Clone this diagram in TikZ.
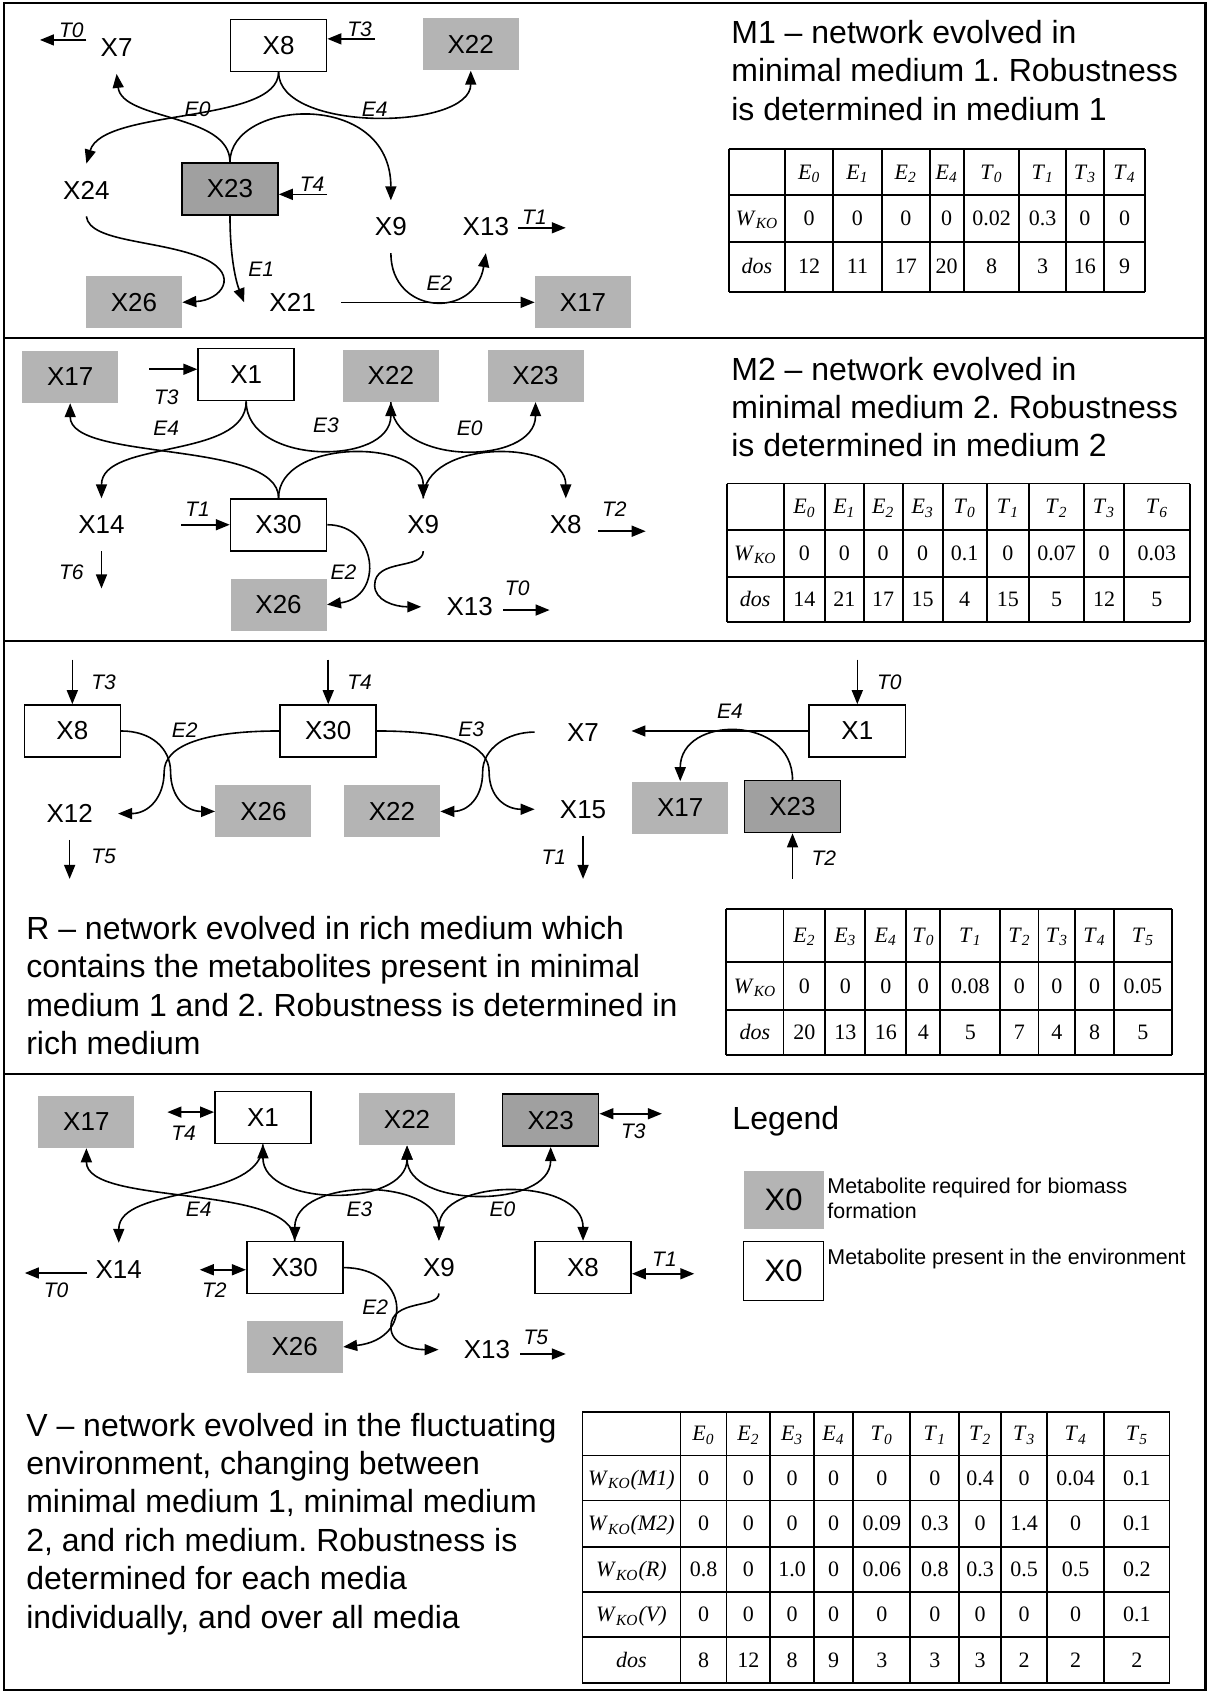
\documentclass[tikz,border=0pt]{standalone}
\usepackage{fontspec}
\setmainfont{Liberation Sans}
\newfontfamily\tnr{Liberation Serif}
\usetikzlibrary{arrows.meta}
\definecolor{lgray}{RGB}{180,180,180}
\definecolor{dgray}{RGB}{160,160,160}
\newcommand\sbx[2]{\textit{#1}\textsubscript{\textit{#2}}}
\newcommand\dfont{\fontsize{16pt}{19.2pt}\selectfont}
\newcommand\tgrid[6]{%
  \foreach \xx in {#5} {\draw[tline] (\xx,#3) -- (\xx,#4);}%
  \foreach \yy in {#6} {\draw[tline] (#1,\yy) -- (#2,\yy);}%
}
\newcommand\trow[3]{\foreach \cx/\tx [count=\k] in {#3} {\node[tcell] (#1-\k) at (\cx,#2) {\tx};}}
\frenchspacing
\begin{document}
\begin{tikzpicture}[x=0.5397pt,y=-0.5397pt,
  met/.style={minimum width=48pt,minimum height=26pt,inner sep=0pt,font=\fontsize{13pt}{15pt}\selectfont},
  wbox/.style={met,draw,line width=0.8pt,fill=white},
  gbox/.style={met,fill=lgray},
  dbox/.style={met,draw,line width=0.8pt,fill=dgray},
  lab/.style={inner sep=0pt,font=\fontsize{10.5pt}{12pt}\selectfont\itshape},
  arr/.style={line width=0.8pt,-{Triangle[length=7pt,width=5.5pt]}},
  darr/.style={line width=0.8pt,{Triangle[length=7pt,width=5.5pt]}-{Triangle[length=7pt,width=5.5pt]}},
  tline/.style={line width=0.9pt},
  frame/.style={line width=1.1pt},
  tcell/.style={inner sep=0pt,text height=8pt,text depth=1pt,font=\tnr\fontsize{11pt}{13pt}\selectfont},
  desc/.style={inner sep=0pt,anchor=base west},
]
\useasboundingbox (0,0) rectangle (1121,1568);
% frames
\draw[frame] (3.5,2.5) rectangle (1116.5,1565.5);
\draw[frame] (3.5,313) -- (1116.5,313);
\draw[frame] (3.5,594) -- (1116.5,594);
\draw[frame] (3.5,995) -- (1116.5,995);

%%%%%%%%%%%%%%%% M1
\node[met] (a7) at (108,44) {X7};
\node[wbox] (a8) at (258,42) {X8};
\node[gbox] (a22) at (436,41) {X22};
\node[met] (a24) at (80,176) {X24};
\node[dbox] (a23) at (213,175) {X23};
\node[met] (a9) at (362,210) {X9};
\node[met] (a13) at (450,210) {X13};
\node[gbox] (a26) at (124,280) {X26};
\node[met] (a21) at (271,280) {X21};
\node[gbox] (a17) at (540,280) {X17};
\draw[arr] (a8.south) .. controls (258,115) and (95,100) .. (a24.north);
\draw[arr] (a23.north) .. controls (213,105) and (113,112) .. (a7.south);
\draw[arr] (a8.south) .. controls (258,123) and (436,121) .. (a22.south);
\draw[arr] (a23.north) .. controls (213,92) and (362,82) .. (a9.north);
\draw[arr] (a23.south) .. controls (213,240) and (219,262) .. (a21.west);
\draw[arr] (a24.south) .. controls (83,225) and (150,222) .. (190,240) .. controls (222,255) and (205,278) .. (a26.east);
\draw[arr] (a9.south) .. controls (362,292) and (440,296) .. (a13.south);
\draw[arr] (a21.east) -- (a17.west);
\coordinate (aT0s) at (80,37); \coordinate (aT0e) at (37,37);
\draw[arr] (aT0s) -- (aT0e);
\coordinate (aT3s) at (347,36); \draw[arr] (aT3s) -- (aT3s -| a8.east);
\coordinate (aT4s) at (303,180); \draw[arr] (aT4s) -- (aT4s -| a23.east);
\coordinate (aT1s) at (480,211); \coordinate (aT1e) at (524,211);
\draw[arr] (aT1s) -- (aT1e);
\node[lab] (aT0) at (66,28) {T0};
\node[lab] (aT3) at (333,27) {T3};
\node[lab] (aT4) at (289,171) {T4};
\node[lab] (aT1) at (495,201) {T1};
\node[lab] (aE0) at (183,101) {E0};
\node[lab] (aE4) at (347,101) {E4};
\node[lab] (aE1) at (242,249) {E1};
\node[lab] (aE2) at (407,262) {E2};
\node[desc] (m1t) at (677,40) {\parbox[t]{300pt}{\dfont M1 – network evolved in\\minimal medium 1. Robustness\\is determined in medium 1}};
\tgrid{674.8}{1060.8}{138.3}{270.2}{674.8,727.3,771.4,816.8,861,892.5,944,987.3,1022.2,1060.8}{138.3,180.7,223.9,270.2}
\trow{tah}{159.5}{749.4/{\sbx{E}{0}},794.1/{\sbx{E}{1}},838.9/{\sbx{E}{2}},876.8/{\sbx{E}{4}},918.3/{\sbx{T}{0}},965.7/{\sbx{T}{1}},1004.8/{\sbx{T}{3}},1041.5/{\sbx{T}{4}}}
\trow{taw}{202.3}{701.1/{\sbx{W}{KO}},749.4/0,794.1/0,838.9/0,876.8/0,918.3/0.02,965.7/0.3,1004.8/0,1041.5/0}
\trow{tad}{247}{701.1/{\textit{dos}},749.4/12,794.1/11,838.9/17,876.8/20,918.3/8,965.7/3,1004.8/16,1041.5/9}

%%%%%%%%%%%%%%%% M2
\node[gbox] (b17) at (65,349) {X17};
\node[wbox] (b1) at (228,347) {X1};
\node[gbox] (b22) at (362,348) {X22};
\node[gbox] (b23) at (496,348) {X23};
\node[met] (b14) at (94,486) {X14};
\node[wbox] (b30) at (258,486) {X30};
\node[met] (b9) at (392,486) {X9};
\node[met] (b8) at (524,486) {X8};
\node[gbox] (b26) at (258,560) {X26};
\node[met] (b13) at (435,562) {X13};
\draw[arr] (b1.south) .. controls (228,426) and (94,407) .. (b14.north);
\draw[arr] (b30.north) .. controls (258,407) and (65,428) .. (b17.south);
\draw[arr] (b1.south) .. controls (228,431) and (362,432) .. (b22.south);
\draw[arr] (b30.north) .. controls (258,406) and (392,406) .. (b9.north);
\draw[arr] (b22.south) .. controls (362,432) and (496,432) .. (b23.south);
\draw[arr] (b9.north) .. controls (392,406) and (524,406) .. (b8.north);
\draw[arr] (b30.east) .. controls (350,486) and (356,553) .. (b26.east);
\draw[arr] (b9.south) .. controls (392,528) and (347,517) .. (347,542) .. controls (347,556) and (365,562) .. (b13.west);
\coordinate (bT3s) at (138,342); \draw[arr] (bT3s) -- (bT3s -| b1.west);
\coordinate (bT1s) at (168,486); \draw[arr] (bT1s) -- (b30.west);
\coordinate (bT2s) at (554,492); \coordinate (bT2e) at (598,492); \draw[arr] (bT2s) -- (bT2e);
\coordinate (bT6e) at (94,545); \draw[arr] (b14.south) -- (bT6e);
\coordinate (bT0s) at (466,565); \coordinate (bT0e) at (509,565); \draw[arr] (bT0s) -- (bT0e);
\node[lab] (bT3) at (154,367.5) {T3};
\node[lab] (bT1) at (183,472) {T1};
\node[lab] (bT2) at (569,472) {T2};
\node[lab] (bT6) at (66,530) {T6};
\node[lab] (bT0) at (479,545) {T0};
\node[lab] (bE4) at (154,397) {E4};
\node[lab] (bE3) at (302,394) {E3};
\node[lab] (bE0) at (435,397) {E0};
\node[lab] (bE2) at (318,530) {E2};
\node[desc] (m2t) at (677,352) {\parbox[t]{300pt}{\dfont M2 – network evolved in\\minimal medium 2. Robustness\\is determined in medium 2}};
\tgrid{673}{1102}{447.8}{576}{673,726,764,800,836,873,914,953,1004,1041,1102}{447.8,491,534.3,576}
\trow{tbh}{469.4}{745/{\sbx{E}{0}},782/{\sbx{E}{1}},818/{\sbx{E}{2}},854.5/{\sbx{E}{3}},893.5/{\sbx{T}{0}},933.5/{\sbx{T}{1}},978.5/{\sbx{T}{2}},1022.5/{\sbx{T}{3}},1071.5/{\sbx{T}{6}}}
\trow{tbw}{512.7}{699.5/{\sbx{W}{KO}},745/0,782/0,818/0,854.5/0,893.5/0.1,933.5/0,978.5/0.07,1022.5/0,1071.5/0.03}
\trow{tbd}{555.2}{699.5/{\textit{dos}},745/14,782/21,818/17,854.5/15,893.5/4,933.5/15,978.5/5,1022.5/12,1071.5/5}

%%%%%%%%%%%%%%%% R
\node[wbox] (c8) at (67,677) {X8};
\node[wbox] (c30) at (304,677) {X30};
\node[met] (c7) at (540,678) {X7};
\node[wbox] (c1) at (794,677) {X1};
\node[met] (c12) at (64.5,753.5) {X12};
\node[gbox] (c26) at (244,751.5) {X26};
\node[gbox] (c22) at (363,751.5) {X22};
\node[met] (c15) at (540,749.5) {X15};
\node[gbox] (c17) at (630,748) {X17};
\node[dbox] (c23) at (734,747) {X23};
\draw[arr] (c8.east) .. controls (140,677) and (158,693) .. (158,715) .. controls (158,738) and (172,751.5) .. (c26.west);
\draw[arr] (c30.west) .. controls (190,677) and (152,690) .. (152,715) .. controls (152,738) and (138,753.5) .. (c12.east);
\draw[arr] (c30.east) .. controls (420,677) and (453,690) .. (453,715) .. controls (453,738) and (468,749.5) .. (c15.west);
\draw[arr] (c7.west) .. controls (470,678) and (447,693) .. (447,715) .. controls (447,740) and (432,751.5) .. (c22.east);
\draw[arr] (c1.west) -- (c1.west -| c7.east);
\draw[arr] (c23.north) .. controls (734,662) and (630,662) .. (c17.north);
\coordinate (cT3s) at (67,611); \draw[arr] (cT3s) -- (c8.north);
\coordinate (cT4s) at (304,611); \draw[arr] (cT4s) -- (c30.north);
\coordinate (cT0s) at (794,611); \draw[arr] (cT0s) -- (c1.north);
\coordinate (cT5e) at (64.5,814); \draw[arr] (c12.south) -- (cT5e);
\coordinate (cT1e) at (540,814); \draw[arr] (c15.south) -- (cT1e);
\coordinate (cT2s) at (734,814); \draw[arr] (cT2s) -- (c23.south);
\node[lab] (cT3) at (96,631.5) {T3};
\node[lab] (cT4) at (333,631.5) {T4};
\node[lab] (cT0) at (823.6,631.5) {T0};
\node[lab] (cT5) at (96,793.6) {T5};
\node[lab] (cT1) at (513,793.6) {T1};
\node[lab] (cT2) at (763,795) {T2};
\node[lab] (cE2) at (171,676) {E2};
\node[lab] (cE3) at (436.5,675) {E3};
\node[lab] (cE4) at (676,659) {E4};
\node[desc] (rt) at (24,870) {\parbox[t]{360pt}{\dfont R – network evolved in rich medium which\\contains the metabolites present in minimal\\medium 1 and 2. Robustness is determined in\\rich medium}};
\tgrid{672.6}{1085.5}{842}{977.4}{672.6,725.7,764.3,801.4,839.4,870.9,926.4,961.9,995.9,1031.4,1085.5}{842,891,935.7,977.4}
\trow{tch}{866.5}{745/{\sbx{E}{2}},782.9/{\sbx{E}{3}},820.4/{\sbx{E}{4}},855.2/{\sbx{T}{0}},898.7/{\sbx{T}{1}},944.2/{\sbx{T}{2}},978.9/{\sbx{T}{3}},1013.7/{\sbx{T}{4}},1058.5/{\sbx{T}{5}}}
\trow{tcw}{913.4}{699.2/{\sbx{W}{KO}},745/0,782.9/0,820.4/0,855.2/0,898.7/0.08,944.2/0,978.9/0,1013.7/0,1058.5/0.05}
\trow{tcd}{956.6}{699.2/{\textit{dos}},745/20,782.9/13,820.4/16,855.2/4,898.7/5,944.2/7,978.9/4,1013.7/8,1058.5/5}

%%%%%%%%%%%%%%%% V
\node[gbox] (d17) at (80,1039) {X17};
\node[wbox] (d1) at (243.5,1035) {X1};
\node[gbox] (d22) at (377,1036.5) {X22};
\node[dbox] (d23) at (510,1037.5) {X23};
\node[met] (d14) at (110,1175.5) {X14};
\node[wbox] (d30) at (273,1174) {X30};
\node[met] (d9) at (406.5,1173.5) {X9};
\node[wbox] (d8) at (540,1174) {X8};
\node[gbox] (d26) at (273,1247.5) {X26};
\node[met] (d13) at (451,1250) {X13};
\draw[arr] (d1.south) .. controls (243.5,1114) and (110,1097) .. (d14.north);
\draw[arr] (d30.north) .. controls (273,1095) and (80,1118) .. (d17.south);
\draw[darr] (d1.south) .. controls (243.5,1118) and (377,1119) .. (d22.south);
\draw[darr] (d30.north) .. controls (273,1090) and (406.5,1090) .. (d9.north);
\draw[darr] (d22.south) .. controls (377,1119) and (510,1120) .. (d23.south);
\draw[darr] (d9.north) .. controls (406.5,1090) and (540,1090) .. (d8.north);
\draw[arr] (d30.east) .. controls (378,1174) and (385,1240) .. (d26.east);
\draw[arr] (d9.south) .. controls (406.5,1212) and (362,1203) .. (362,1229) .. controls (362,1245) and (382,1250) .. (d13.west);
\coordinate (dT4s) at (155,1030); \draw[darr] (dT4s) -- (dT4s -| d1.west);
\coordinate (dT3e) at (613,1031.5); \draw[darr] (dT3e -| d23.east) -- (dT3e);
\coordinate (dT0s) at (81,1179); \coordinate (dT0e) at (23,1179); \draw[arr] (dT0s) -- (dT0e);
\coordinate (dT2s) at (185,1176); \draw[darr] (dT2s) -- (dT2s -| d30.west);
\coordinate (dT1e) at (643,1179.7); \draw[darr] (dT1e -| d8.east) -- (dT1e);
\coordinate (dT5s) at (482,1254); \coordinate (dT5e) at (524,1254); \draw[arr] (dT5s) -- (dT5e);
\node[lab] (dT4) at (170,1050) {T4};
\node[lab] (dT3) at (586.5,1047.5) {T3};
\node[lab] (dT0) at (52,1195) {T0};
\node[lab] (dT2) at (198.5,1195) {T2};
\node[lab] (dT1) at (615.4,1166) {T1};
\node[lab] (dT5) at (496.3,1238.3) {T5};
\node[lab] (dE4) at (184,1120.4) {E4};
\node[lab] (dE3) at (333,1120.4) {E3};
\node[lab] (dE0) at (465.3,1120.4) {E0};
\node[lab] (dE2) at (347.4,1210.5) {E2};
\node[desc] (vt) at (24,1330) {\parbox[t]{300pt}{\dfont V – network evolved in the fluctuating\\environment, changing between\\minimal medium 1, minimal medium\\2, and rich medium. Robustness is\\determined for each media\\individually, and over all media}};
\tgrid{539.4}{1083.2}{1307.8}{1558.9}{539.4,630.2,672.9,713.4,753.8,790.2,843.1,888.5,927.1,969.8,1022.7,1083.2}{1307.8,1348,1389.7,1432.9,1474.6,1516.3,1558.9}
\trow{tdh}{1327.9}{651.6/{\sbx{E}{0}},693.2/{\sbx{E}{2}},733.6/{\sbx{E}{3}},772/{\sbx{E}{4}},816.7/{\sbx{T}{0}},865.8/{\sbx{T}{1}},907.8/{\sbx{T}{2}},948.5/{\sbx{T}{3}},996.3/{\sbx{T}{4}},1053/{\sbx{T}{5}}}
\trow{tda}{1368.9}{584.8/{\sbx{W}{KO}\textit{(M1)}},651.6/0,693.2/0,733.6/0,772/0,816.7/0,865.8/0,907.8/0.4,948.5/0,996.3/0.04,1053/0.1}
\trow{tdb}{1411.3}{584.8/{\sbx{W}{KO}\textit{(M2)}},651.6/0,693.2/0,733.6/0,772/0,816.7/0.09,865.8/0.3,907.8/0,948.5/1.4,996.3/0,1053/0.1}
\trow{tdc}{1453.8}{584.8/{\sbx{W}{KO}\textit{(R)}},651.6/0.8,693.2/0,733.6/1.0,772/0,816.7/0.06,865.8/0.8,907.8/0.3,948.5/0.5,996.3/0.5,1053/0.2}
\trow{tdv}{1495.5}{584.8/{\sbx{W}{KO}\textit{(V)}},651.6/0,693.2/0,733.6/0,772/0,816.7/0,865.8/0,907.8/0,948.5/0,996.3/0,1053/0.1}
\trow{tdd}{1537.6}{584.8/{\textit{dos}},651.6/8,693.2/12,733.6/8,772/9,816.7/3,865.8/3,907.8/3,948.5/2,996.3/2,1053/2}

%%%%%%%%%%%%%%%% Legend
\node[desc] (leg) at (678,1046) {\dfont Legend};
\node[gbox,minimum width=40pt,minimum height=28.6pt,font=\fontsize{15.5pt}{17pt}\selectfont] (lg1) at (725.7,1111.3) {X0};
\node[wbox,minimum width=40pt,minimum height=29.5pt,font=\fontsize{15.5pt}{17pt}\selectfont] (lg2) at (725.7,1177) {X0};
\node[desc] (lg1t) at (766,1105) {\parbox[t]{200pt}{\fontsize{10.7pt}{12.7pt}\selectfont Metabolite required for biomass\\formation}};
\node[desc] (lg2t) at (766,1171) {\fontsize{10.7pt}{12.7pt}\selectfont Metabolite present in the environment};
\end{tikzpicture}
\end{document}
